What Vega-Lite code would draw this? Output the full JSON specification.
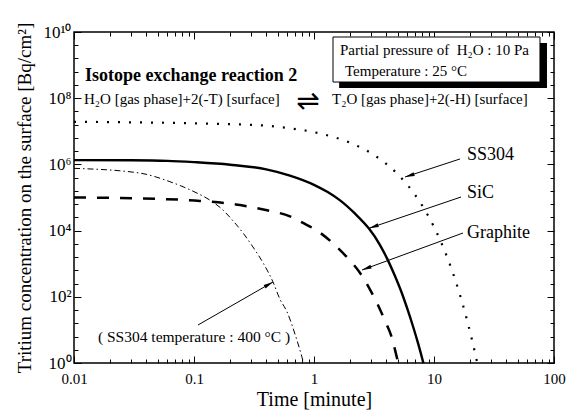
{
  "$schema": "https://vega.github.io/schema/vega-lite/v6.json",
  "width": 480,
  "height": 331,
  "autosize": "none",
  "padding": {"left": 74, "top": 32, "right": 12, "bottom": 47},
  "background": "white",
  "config": {
    "font": "Liberation Serif",
    "view": {"stroke": "black", "strokeWidth": 1.5},
    "axis": {"grid": false, "domain": false, "tickColor": "black", "tickWidth": 1, "labelColor": "black", "titleColor": "black", "labelOverlap": false, "labelFlush": false, "labelBound": false, "titleFontWeight": "normal"}
  },
  "datasets": {
    "sic": [
      {"t": 0.01, "c": 1350000}, {"t": 0.03, "c": 1330000}, {"t": 0.06, "c": 1280000}, {"t": 0.1, "c": 1170000},
      {"t": 0.2, "c": 980000}, {"t": 0.4, "c": 710000}, {"t": 0.63, "c": 460000}, {"t": 1.0, "c": 242000},
      {"t": 1.3, "c": 146000}, {"t": 1.65, "c": 82000}, {"t": 2.2, "c": 32400}, {"t": 2.87, "c": 11500},
      {"t": 3.5, "c": 4000}, {"t": 4.06, "c": 1450}, {"t": 4.7, "c": 447}, {"t": 5.41, "c": 126},
      {"t": 6.0, "c": 43}, {"t": 6.68, "c": 12.9}, {"t": 7.4, "c": 3.7}, {"t": 8.1, "c": 1.1}, {"t": 8.3, "c": 0.78}
    ],
    "graphite": [
      {"t": 0.01, "c": 100000}, {"t": 0.05, "c": 91000}, {"t": 0.112, "c": 79000}, {"t": 0.242, "c": 59000},
      {"t": 0.406, "c": 41000}, {"t": 0.63, "c": 27000}, {"t": 0.81, "c": 17000}, {"t": 1.08, "c": 9500},
      {"t": 1.5, "c": 3600}, {"t": 1.92, "c": 1450}, {"t": 2.42, "c": 525}, {"t": 3.0, "c": 141},
      {"t": 3.35, "c": 65}, {"t": 3.9, "c": 19}, {"t": 4.47, "c": 5.6}, {"t": 5.01, "c": 1.1}, {"t": 5.2, "c": 0.7}
    ],
    "ss304": [
      {"t": 0.01, "c": 19400000}, {"t": 0.3, "c": 15700000}, {"t": 0.6, "c": 12600000}, {"t": 1.12, "c": 8600000},
      {"t": 2, "c": 4500000}, {"t": 3, "c": 2170000}, {"t": 4, "c": 1040000}, {"t": 5, "c": 500000},
      {"t": 6, "c": 241000}, {"t": 7, "c": 116000}, {"t": 8, "c": 56000}, {"t": 9, "c": 26800},
      {"t": 10, "c": 12900}, {"t": 11, "c": 6200}, {"t": 12, "c": 2980}, {"t": 13, "c": 1430},
      {"t": 14, "c": 689}, {"t": 15, "c": 331}, {"t": 16, "c": 159}, {"t": 17, "c": 76.6},
      {"t": 18, "c": 36.8}, {"t": 19, "c": 17.7}, {"t": 20, "c": 8.5}, {"t": 21, "c": 4.1},
      {"t": 22, "c": 1.97}, {"t": 23, "c": 0.95}, {"t": 23.5, "c": 0.66}
    ],
    "hot": [
      {"t": 0.01, "c": 760000}, {"t": 0.035, "c": 550000}, {"t": 0.063, "c": 300000}, {"t": 0.1, "c": 150000},
      {"t": 0.136, "c": 83000}, {"t": 0.165, "c": 50000}, {"t": 0.211, "c": 20000}, {"t": 0.26, "c": 7900},
      {"t": 0.31, "c": 3200}, {"t": 0.38, "c": 1000}, {"t": 0.455, "c": 282}, {"t": 0.52, "c": 85},
      {"t": 0.596, "c": 35}, {"t": 0.7, "c": 6.8}, {"t": 0.79, "c": 1.6}, {"t": 0.83, "c": 0.83}
    ],
    "arrows": [
      {"name": "SS304", "t1": 16.48, "c1": 1460000, "t2": 5.733, "c2": 416000},
      {"name": "SiC", "t1": 16.79, "c1": 103500, "t2": 2.88, "c2": 11800},
      {"name": "Graphite", "t1": 17.45, "c1": 8460, "t2": 2.512, "c2": 645},
      {"name": "hot", "t1": 0.108, "c1": 14.06, "t2": 0.455, "c2": 280}
    ]
  },
  "resolve": {"axis": {"x": "independent", "y": "independent"}},
  "layer": [
    {
      "data": {"name": "sic"},
      "mark": {"type": "line", "color": "black", "strokeWidth": 2.4, "interpolate": "monotone", "clip": true},
      "encoding": {
        "x": {"field": "t", "type": "quantitative", "scale": {"type": "log", "domain": [0.01, 100], "nice": false},
          "axis": {"orient": "bottom", "title": "Time [minute]", "titleFontSize": 20, "titlePadding": 0,
            "labelFontSize": 15, "labelPadding": 15,
            "values": [0.01,0.02,0.03,0.04,0.05,0.06,0.07,0.08,0.09,0.1,0.2,0.3,0.4,0.5,0.6,0.7,0.8,0.9,1,2,3,4,5,6,7,8,9,10,20,30,40,50,60,70,80,90,100],
            "labelExpr": "datum.value == 0.01 ? '0.01' : datum.value == 0.1 ? '0.1' : datum.value == 1 ? '1' : datum.value == 10 ? '10' : datum.value == 100 ? '100' : ''",
            "tickSize": {"condition": {"test": "datum.value == 0.01 || datum.value == 0.1 || datum.value == 1 || datum.value == 10 || datum.value == 100", "value": -7}, "value": -4}}},
        "y": {"field": "c", "type": "quantitative", "scale": {"type": "log", "domain": [1, 10000000000], "nice": false},
          "axis": {"orient": "left", "title": "Tritium concentration on the surface [Bq/cm²]", "titleFontSize": 19, "titlePadding": 8,
            "labelFontSize": 17, "labelPadding": 10,
            "values": [1,2.5119,6.3096,15.849,39.811,100,251.19,630.96,1584.9,3981.1,10000,25119,63096,158489,398107,1000000,2511886,6309573,15848932,39810717,100000000,251188643,630957344,1584893192,3981071706,10000000000],
            "labelExpr": "datum.value == 1 ? '10⁰' : datum.value == 100 ? '10²' : datum.value == 10000 ? '10⁴' : datum.value == 1000000 ? '10⁶' : datum.value == 100000000 ? '10⁸' : datum.value == 10000000000 ? '10¹⁰' : ''",
            "tickSize": {"condition": {"test": "datum.value == 1 || datum.value == 100 || datum.value == 10000 || datum.value == 1000000 || datum.value == 100000000 || datum.value == 10000000000", "value": -7}, "value": -4}}}
      }
    },
    {
      "data": {"name": "ss304"},
      "mark": {"type": "line", "color": "black", "strokeWidth": 2.2, "strokeDash": [2, 9], "interpolate": "monotone", "clip": true},
      "encoding": {
        "x": {"field": "t", "type": "quantitative", "scale": {"type": "log", "domain": [0.01, 100], "nice": false},
          "axis": {"orient": "top", "title": null, "labels": false,
            "values": [0.01,0.02,0.03,0.04,0.05,0.06,0.07,0.08,0.09,0.1,0.2,0.3,0.4,0.5,0.6,0.7,0.8,0.9,1,2,3,4,5,6,7,8,9,10,20,30,40,50,60,70,80,90,100],
            "tickSize": {"condition": {"test": "datum.value == 0.01 || datum.value == 0.1 || datum.value == 1 || datum.value == 10 || datum.value == 100", "value": -7}, "value": -4}}},
        "y": {"field": "c", "type": "quantitative", "scale": {"type": "log", "domain": [1, 10000000000], "nice": false},
          "axis": {"orient": "right", "title": null, "labels": false,
            "values": [1,2.5119,6.3096,15.849,39.811,100,251.19,630.96,1584.9,3981.1,10000,25119,63096,158489,398107,1000000,2511886,6309573,15848932,39810717,100000000,251188643,630957344,1584893192,3981071706,10000000000],
            "tickSize": {"condition": {"test": "datum.value == 1 || datum.value == 100 || datum.value == 10000 || datum.value == 1000000 || datum.value == 100000000 || datum.value == 10000000000", "value": -7}, "value": -4}}}
      }
    },
    {
      "data": {"name": "graphite"},
      "mark": {"type": "line", "color": "black", "strokeWidth": 2.5, "strokeDash": [12, 11], "interpolate": "monotone", "clip": true},
      "encoding": {
        "x": {"field": "t", "type": "quantitative", "scale": {"type": "log", "domain": [0.01, 100], "nice": false}, "axis": null},
        "y": {"field": "c", "type": "quantitative", "scale": {"type": "log", "domain": [1, 10000000000], "nice": false}, "axis": null}
      }
    },
    {
      "data": {"name": "hot"},
      "mark": {"type": "line", "color": "black", "strokeWidth": 1, "strokeDash": [6, 3, 1.5, 3], "interpolate": "monotone", "clip": true},
      "encoding": {
        "x": {"field": "t", "type": "quantitative", "scale": {"type": "log", "domain": [0.01, 100], "nice": false}, "axis": null},
        "y": {"field": "c", "type": "quantitative", "scale": {"type": "log", "domain": [1, 10000000000], "nice": false}, "axis": null}
      }
    },
    {
      "data": {"name": "arrows"},
      "mark": {"type": "rule", "color": "black", "strokeWidth": 1},
      "encoding": {
        "x": {"field": "t1", "type": "quantitative", "scale": {"type": "log", "domain": [0.01, 100], "nice": false}, "axis": null},
        "y": {"field": "c1", "type": "quantitative", "scale": {"type": "log", "domain": [1, 10000000000], "nice": false}, "axis": null},
        "x2": {"field": "t2"},
        "y2": {"field": "c2"}
      }
    },
    {
      "data": {"name": "arrows"},
      "transform": [{"filter": "datum.name == 'SS304'"}],
      "mark": {"type": "point", "shape": "M0,0L0.5,2.4L-0.5,2.4Z", "size": 64, "filled": true, "color": "black", "opacity": 1, "strokeWidth": 0, "angle": 252},
      "encoding": {
        "x": {"field": "t2", "type": "quantitative", "scale": {"type": "log", "domain": [0.01, 100], "nice": false}, "axis": null},
        "y": {"field": "c2", "type": "quantitative", "scale": {"type": "log", "domain": [1, 10000000000], "nice": false}, "axis": null}
      }
    },
    {
      "data": {"name": "arrows"},
      "transform": [{"filter": "datum.name == 'SiC'"}],
      "mark": {"type": "point", "shape": "M0,0L0.5,2.4L-0.5,2.4Z", "size": 64, "filled": true, "color": "black", "opacity": 1, "strokeWidth": 0, "angle": 251},
      "encoding": {
        "x": {"field": "t2", "type": "quantitative", "scale": {"type": "log", "domain": [0.01, 100], "nice": false}, "axis": null},
        "y": {"field": "c2", "type": "quantitative", "scale": {"type": "log", "domain": [1, 10000000000], "nice": false}, "axis": null}
      }
    },
    {
      "data": {"name": "arrows"},
      "transform": [{"filter": "datum.name == 'Graphite'"}],
      "mark": {"type": "point", "shape": "M0,0L0.5,2.4L-0.5,2.4Z", "size": 64, "filled": true, "color": "black", "opacity": 1, "strokeWidth": 0, "angle": 250},
      "encoding": {
        "x": {"field": "t2", "type": "quantitative", "scale": {"type": "log", "domain": [0.01, 100], "nice": false}, "axis": null},
        "y": {"field": "c2", "type": "quantitative", "scale": {"type": "log", "domain": [1, 10000000000], "nice": false}, "axis": null}
      }
    },
    {
      "data": {"name": "arrows"},
      "transform": [{"filter": "datum.name == 'hot'"}],
      "mark": {"type": "point", "shape": "M0,0L0.5,2.4L-0.5,2.4Z", "size": 64, "filled": true, "color": "black", "opacity": 1, "strokeWidth": 0, "angle": 60},
      "encoding": {
        "x": {"field": "t2", "type": "quantitative", "scale": {"type": "log", "domain": [0.01, 100], "nice": false}, "axis": null},
        "y": {"field": "c2", "type": "quantitative", "scale": {"type": "log", "domain": [1, 10000000000], "nice": false}, "axis": null}
      }
    },
    {
      "data": {"values": [{"ta": 1.62, "tb": 87.4, "ca": 4650000000, "cb": 203000000}]},
      "mark": {"type": "rect", "color": "black", "opacity": 1},
      "encoding": {
        "x": {"field": "ta", "type": "quantitative", "scale": {"type": "log", "domain": [0.01, 100], "nice": false}, "axis": null},
        "x2": {"field": "tb"},
        "y": {"field": "ca", "type": "quantitative", "scale": {"type": "log", "domain": [1, 10000000000], "nice": false}, "axis": null},
        "y2": {"field": "cb"}
      }
    },
    {
      "data": {"values": [{"ta": 1.44, "tb": 76.4, "ca": 7060000000, "cb": 308000000}]},
      "mark": {"type": "rect", "fill": "white", "stroke": "black", "strokeWidth": 1, "opacity": 1},
      "encoding": {
        "x": {"field": "ta", "type": "quantitative", "scale": {"type": "log", "domain": [0.01, 100], "nice": false}, "axis": null},
        "x2": {"field": "tb"},
        "y": {"field": "ca", "type": "quantitative", "scale": {"type": "log", "domain": [1, 10000000000], "nice": false}, "axis": null},
        "y2": {"field": "cb"}
      }
    },
    {
      "data": {"values": [{"t": 0.01235, "c": 469000000, "label": "Isotope exchange reaction 2"}]},
      "mark": {"type": "text", "align": "left", "baseline": "middle", "font": "Liberation Serif", "fontSize": 18, "fontWeight": "bold", "color": "black"},
      "encoding": {
        "x": {"field": "t", "type": "quantitative", "scale": {"type": "log", "domain": [0.01, 100], "nice": false}, "axis": null},
        "y": {"field": "c", "type": "quantitative", "scale": {"type": "log", "domain": [1, 10000000000], "nice": false}, "axis": null},
        "text": {"field": "label"}
      }
    },
    {
      "data": {"values": [
        {"t": 0.01212, "c": 95000000, "label": "H₂O [gas phase]+2(-T) [surface]"},
        {"t": 1.413, "c": 95000000, "label": "T₂O [gas phase]+2(-H) [surface]"},
        {"t": 1.647, "c": 2860000000, "label": "Partial pressure of \u00a0H₂O : 10 Pa"},
        {"t": 1.813, "c": 663000000, "label": "Temperature : 25 °C"}
      ]},
      "mark": {"type": "text", "align": "left", "baseline": "middle", "font": "Liberation Serif", "fontSize": 15, "color": "black"},
      "encoding": {
        "x": {"field": "t", "type": "quantitative", "scale": {"type": "log", "domain": [0.01, 100], "nice": false}, "axis": null},
        "y": {"field": "c", "type": "quantitative", "scale": {"type": "log", "domain": [1, 10000000000], "nice": false}, "axis": null},
        "text": {"field": "label"}
      }
    },
    {
      "data": {"values": [{"t": 0.891, "c": 77000000, "label": "⇌"}]},
      "mark": {"type": "text", "align": "center", "baseline": "middle", "font": "DejaVu Sans", "fontSize": 28, "color": "black"},
      "encoding": {
        "x": {"field": "t", "type": "quantitative", "scale": {"type": "log", "domain": [0.01, 100], "nice": false}, "axis": null},
        "y": {"field": "c", "type": "quantitative", "scale": {"type": "log", "domain": [1, 10000000000], "nice": false}, "axis": null},
        "text": {"field": "label"}
      }
    },
    {
      "data": {"values": [
        {"t": 18.84, "c": 1920000, "label": "SS304"},
        {"t": 18.84, "c": 137000, "label": "SiC"},
        {"t": 18.84, "c": 8460, "label": "Graphite"}
      ]},
      "mark": {"type": "text", "align": "left", "baseline": "middle", "font": "Liberation Serif", "fontSize": 18, "color": "black"},
      "encoding": {
        "x": {"field": "t", "type": "quantitative", "scale": {"type": "log", "domain": [0.01, 100], "nice": false}, "axis": null},
        "y": {"field": "c", "type": "quantitative", "scale": {"type": "log", "domain": [1, 10000000000], "nice": false}, "axis": null},
        "text": {"field": "label"}
      }
    },
    {
      "data": {"values": [{"t": 0.1, "c": 6.1, "label": "( SS304 temperature : 400 °C )"}]},
      "mark": {"type": "text", "align": "center", "baseline": "middle", "font": "Liberation Serif", "fontSize": 15.5, "color": "black"},
      "encoding": {
        "x": {"field": "t", "type": "quantitative", "scale": {"type": "log", "domain": [0.01, 100], "nice": false}, "axis": null},
        "y": {"field": "c", "type": "quantitative", "scale": {"type": "log", "domain": [1, 10000000000], "nice": false}, "axis": null},
        "text": {"field": "label"}
      }
    }
  ]
}
